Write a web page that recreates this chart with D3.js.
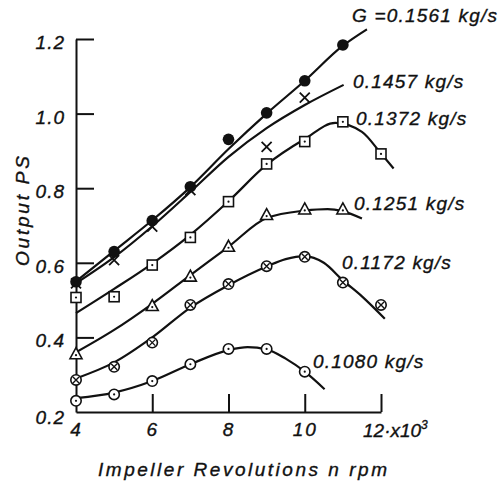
<!DOCTYPE html>
<html>
<head>
<meta charset="utf-8">
<script src="https://cdn.jsdelivr.net/npm/d3@7"></script>
<style>
  body { margin: 0; background: #fff; }
  svg text { font-family: "Liberation Sans", Arial, sans-serif; font-style: italic; fill: #111; stroke: #111; stroke-width: 0.35px; }
</style>
</head>
<body>
<div id="chart-area"></div>
<script>
// measured points, rpm x 10^3
const rpm = [4, 5, 6, 7, 8, 9, 10, 11, 12];

const flowLabels = ["G =0.1561 kg/s", "0.1457 kg/s", "0.1372 kg/s", "0.1251 kg/s", "0.1172 kg/s", "0.1080 kg/s"];
const markerTypes = ["disc", "cross", "square", "triangle", "otimes", "odot"];

// output PS at each rpm (null = no point)
const ps1561 = [0.549, 0.630, 0.713, 0.804, 0.931, 1.002, 1.088, 1.184, null];
const ps1457 = [0.545, 0.607, 0.697, 0.795, null, 0.911, 1.043, null, null];
const ps1372 = [0.507, 0.509, 0.594, 0.668, 0.764, 0.865, 0.925, 0.978, 0.892];
const ps1251 = [0.355, null, 0.484, 0.563, 0.643, 0.728, 0.743, 0.743, null];
const ps1172 = [0.286, 0.321, 0.386, 0.487, 0.543, 0.591, 0.616, 0.547, 0.487];
const ps1080 = [0.230, 0.247, 0.283, 0.328, 0.369, 0.369, 0.308, null, null];

// faired curves as drawn
const curveRpm1561 = [4, 5, 6, 7, 8, 9, 10, 11, 11.63];
const curvePs1561 = [0.55, 0.632, 0.714, 0.803, 0.905, 1.0, 1.088, 1.182, 1.226];
const curveRpm1457 = [4, 5, 6, 7, 8, 9, 10, 11.02];
const curvePs1457 = [0.545, 0.615, 0.698, 0.79, 0.884, 0.961, 1.023, 1.077];
const curveRpm1372 = [4, 5, 6, 7, 8, 9, 10, 10.8, 11.5, 12, 12.33];
const curvePs1372 = [0.465, 0.53, 0.598, 0.675, 0.765, 0.863, 0.932, 0.975, 0.951, 0.893, 0.853];
const curveRpm1251 = [4, 5, 6, 7, 8, 9, 10, 10.6, 11, 11.5];
const curvePs1251 = [0.36, 0.42, 0.49, 0.567, 0.643, 0.72, 0.74, 0.744, 0.738, 0.719];
const curveRpm1172 = [4, 5, 6, 7, 8, 9, 9.5, 10, 10.5, 11, 11.5, 12.1];
const curvePs1172 = [0.29, 0.333, 0.40, 0.48, 0.54, 0.59, 0.61, 0.618, 0.60, 0.553, 0.51, 0.45];
const curveRpm1080 = [4, 5, 6, 7, 8, 8.5, 9, 9.5, 10, 10.52];
const curvePs1080 = [0.237, 0.252, 0.283, 0.328, 0.366, 0.374, 0.368, 0.343, 0.308, 0.261];

const yTicks = [0.2, 0.4, 0.6, 0.8, 1.0, 1.2];
const xTicks = [4, 6, 8, 10, 12];

const pointSets = [ps1561, ps1457, ps1372, ps1251, ps1172, ps1080];
const curveX = [curveRpm1561, curveRpm1457, curveRpm1372, curveRpm1251, curveRpm1172, curveRpm1080];
const curveY = [curvePs1561, curvePs1457, curvePs1372, curvePs1251, curvePs1172, curvePs1080];

// label anchors (px)
const labelPos = [[352, 22], [353, 88], [356, 125], [354, 210], [342, 269], [313, 368]];

const width = 498, height = 484;

const svg = d3.select("#chart-area")
  .append("svg")
  .attr("width", width)
  .attr("height", height);

const x = d3.scaleLinear().domain([4, 12]).range([76, 381]);
const y = d3.scaleLinear().domain([0.2, 1.2]).range([412, 39]);

// y axis: ticks point right, labels left
const yAxis = svg.append("g")
  .attr("transform", `translate(${x(4)},0)`)
  .call(d3.axisLeft(y)
    .tickValues(yTicks)
    .tickSizeInner(-18)
    .tickSizeOuter(0)
    .tickPadding(11)
    .tickFormat(d3.format(".1f")));

yAxis.selectAll("text")
  .attr("font-size", 19)
  .attr("dy", "0.5em")
  .style("letter-spacing", "1px");
yAxis.selectAll(".tick").filter(d => d === 0.2).select("line").remove();
yAxis.selectAll(".tick").filter(d => d === 0.2).select("text").attr("dy", "0.62em");

// x axis: ticks point up
const xAxis = svg.append("g")
  .attr("transform", `translate(0,${y(0.2)})`)
  .call(d3.axisBottom(x)
    .tickValues(xTicks)
    .tickSizeInner(-18)
    .tickSizeOuter(0)
    .tickPadding(11)
    .tickFormat(d => d === 12 ? "" : d3.format("d")(d)));

xAxis.selectAll("text")
  .attr("font-size", 19)
  .style("letter-spacing", "2px");
xAxis.selectAll(".tick").filter(d => d === 4).select("line").remove();

svg.selectAll(".domain, .tick line")
  .attr("stroke", "#111")
  .attr("stroke-width", 2);

const xUnit = svg.append("text")
  .attr("x", x(12) - 18)
  .attr("y", y(0.2) + 25)
  .attr("font-size", 19);
xUnit.append("tspan").text("12·x10");
xUnit.append("tspan").attr("font-size", 12).attr("dy", -8).text("3");

// axis titles
svg.append("text")
  .attr("x", 98)
  .attr("y", 476)
  .attr("font-size", 19)
  .attr("textLength", 289)
  .attr("lengthAdjust", "spacing")
  .text("Impeller Revolutions n rpm");

svg.append("text")
  .attr("transform", "translate(29,266) rotate(-90)")
  .attr("font-size", 19)
  .attr("textLength", 110)
  .attr("lengthAdjust", "spacing")
  .text("Output  PS");

// curves
const line = d3.line()
  .x(d => x(d[0]))
  .y(d => y(d[1]))
  .curve(d3.curveMonotoneX);

curveX.forEach((xs, i) => {
  svg.append("path")
    .datum(xs.map((v, j) => [v, curveY[i][j]]))
    .attr("fill", "none")
    .attr("stroke", "#111")
    .attr("stroke-width", 2.2)
    .attr("d", line);
});

// markers
function drawMarker(g, type) {
  const s = "#111";
  if (type === "disc") {
    g.append("circle").attr("r", 5.8).attr("fill", s);
  } else if (type === "cross") {
    g.append("path").attr("d", "M-5,-5L5,5M-5,5L5,-5")
      .attr("stroke", s).attr("stroke-width", 1.8);
  } else if (type === "square") {
    g.append("rect").attr("x", -5).attr("y", -5).attr("width", 10).attr("height", 10)
      .attr("fill", "#fff").attr("stroke", s).attr("stroke-width", 1.6);
    g.append("circle").attr("r", 1.1).attr("fill", s);
  } else if (type === "triangle") {
    g.append("path").attr("d", "M0,-6.5L6,4.5L-6,4.5Z")
      .attr("fill", "#fff").attr("stroke", s).attr("stroke-width", 1.6);
    g.append("circle").attr("cy", 1).attr("r", 1.1).attr("fill", s);
  } else if (type === "otimes") {
    g.append("circle").attr("r", 5.2)
      .attr("fill", "#fff").attr("stroke", s).attr("stroke-width", 1.6);
    g.append("path").attr("d", "M-3,-3L3,3M-3,3L3,-3")
      .attr("stroke", s).attr("stroke-width", 1.4);
  } else if (type === "odot") {
    g.append("circle").attr("r", 5.2)
      .attr("fill", "#fff").attr("stroke", s).attr("stroke-width", 1.6);
    g.append("circle").attr("r", 1.1).attr("fill", s);
  }
}

pointSets.forEach((vals, i) => {
  rpm.forEach((r, j) => {
    if (vals[j] == null) return;
    const m = svg.append("g")
      .attr("transform", `translate(${x(r)},${y(vals[j])})`);
    drawMarker(m, markerTypes[i]);
  });
});

// series labels
flowLabels.forEach((t, i) => {
  svg.append("text")
    .attr("x", labelPos[i][0])
    .attr("y", labelPos[i][1])
    .attr("font-size", 19)
    .style("letter-spacing", "1.2px")
    .text(t);
});
</script>
</body>
</html>
